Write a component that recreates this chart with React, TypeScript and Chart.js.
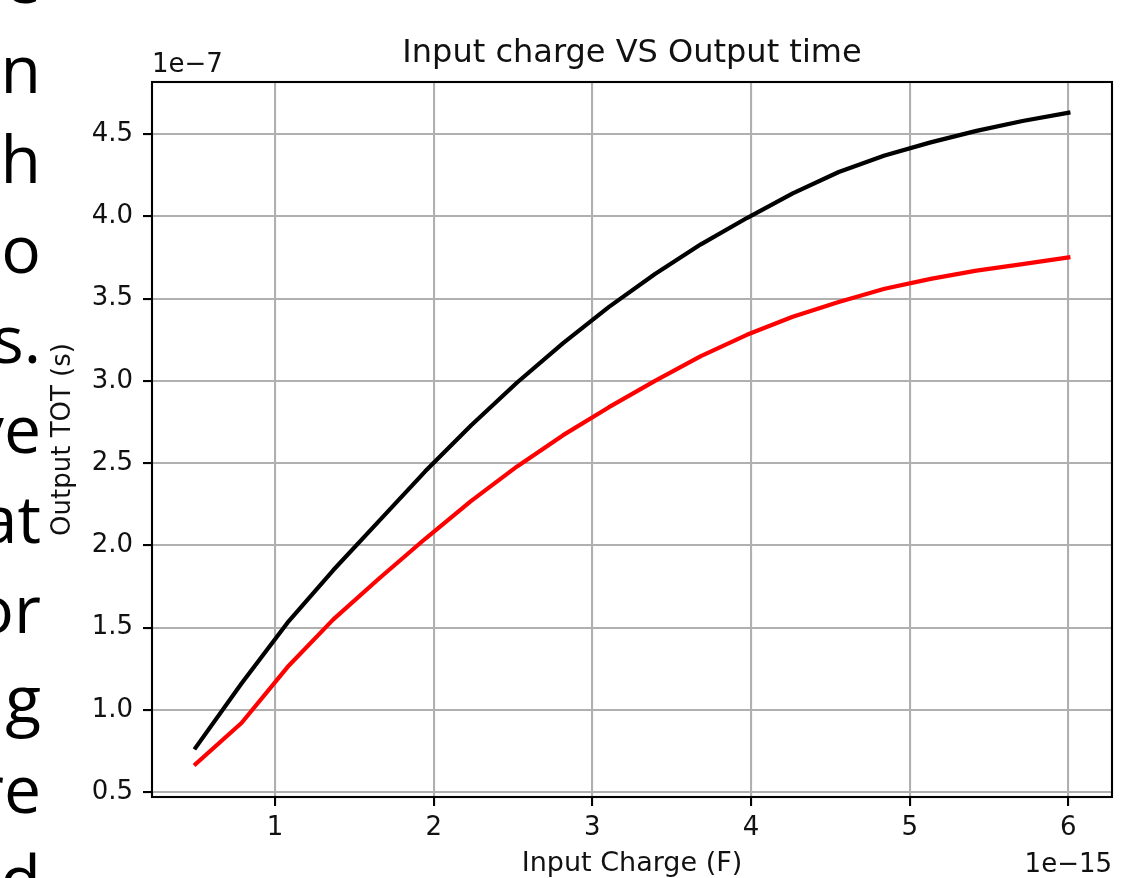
import React, { useEffect, useRef } from "react";
import { Chart, registerables } from "chart.js";

Chart.register(...registerables);

// Input charge (units of 1e-15 F)
const chargeE15 = [0.5, 0.789, 1.079, 1.368, 1.658, 1.947, 2.237, 2.526, 2.816, 3.105, 3.395, 3.684, 3.974, 4.263, 4.553, 4.842, 5.132, 5.421, 5.711, 6.0];
// Output TOT (units of 1e-7 s)
const totBlack = [0.77, 1.16, 1.53, 1.85, 2.15, 2.45, 2.73, 2.99, 3.23, 3.45, 3.65, 3.83, 3.99, 4.14, 4.27, 4.37, 4.45, 4.52, 4.58, 4.63];
const totRed = [0.67, 0.92, 1.26, 1.55, 1.80, 2.04, 2.27, 2.48, 2.67, 2.84, 3.00, 3.15, 3.28, 3.39, 3.48, 3.56, 3.62, 3.67, 3.71, 3.75];

const titleText = "Input charge VS Output time";
const xLabel = "Input Charge (F)";
const yLabel = "Output TOT (s)";
const xOffsetText = "1e\u221215";
const yOffsetText = "1e\u22127";

// Partial slide text visible at the left edge
const sideLines = ["e", "n", "h", "o", "s.", "ve", "at", "or", "g", "re", "d"];

const FONT = "DejaVu Sans";
const TEXT = "#111111";

const decorPlugin = {
  id: "decor",
  afterDraw(chart: any) {
    const { ctx, chartArea: a } = chart;
    ctx.save();
    ctx.strokeStyle = "#000";
    ctx.lineWidth = 2.1;
    ctx.strokeRect(a.left, a.top, a.right - a.left, a.bottom - a.top);
    ctx.fillStyle = TEXT;
    ctx.font = `26px "${FONT}"`;
    ctx.textBaseline = "alphabetic";
    ctx.textAlign = "left";
    ctx.fillText(yOffsetText, a.left, 72);
    ctx.textAlign = "right";
    ctx.fillText(xOffsetText, a.right, 872);
    ctx.restore();
  },
};

export default function App() {
  const ref = useRef<HTMLCanvasElement | null>(null);

  useEffect(() => {
    if (!ref.current) return;
    const mk = (ys: number[]) => chargeE15.map((x, i) => ({ x, y: ys[i] }));
    const lineStyle = {
      borderWidth: 4.2,
      pointRadius: 0,
      tension: 0,
      fill: false,
      borderJoinStyle: "round",
      borderCapStyle: "square",
    };
    const chart = new Chart(ref.current, {
      type: "line",
      data: {
        datasets: [
          { label: "black", data: mk(totBlack), borderColor: "#000000", ...lineStyle },
          { label: "red", data: mk(totRed), borderColor: "#ff0000", ...lineStyle },
        ],
      },
      options: {
        animation: false,
        responsive: false,
        maintainAspectRatio: false,
        layout: { padding: { top: 0, left: 0, right: 20, bottom: 0 } },
        font: { family: FONT },
        plugins: {
          legend: { display: false },
          tooltip: { enabled: false },
          title: {
            display: true,
            fullSize: false,
            text: titleText,
            color: TEXT,
            font: { family: FONT, size: 32, weight: "normal", lineHeight: 1.2 },
            padding: { top: 34.8, bottom: 8.8 },
          },
        },
        scales: {
          x: {
            type: "linear",
            min: 0.225,
            max: 6.275,
            afterFit: (s: any) => {
              s.height = 81;
            },
            border: { display: false },
            grid: {
              color: "#b0b0b0",
              lineWidth: 2.1,
              tickColor: "#000",
              tickWidth: 2.1,
              tickLength: 9,
            },
            ticks: {
              stepSize: 1,
              includeBounds: false,
              maxRotation: 0,
              autoSkip: false,
              padding: 7,
              color: TEXT,
              font: { family: FONT, size: 26 },
              callback: (v: any) => String(v),
            },
            title: {
              display: true,
              text: xLabel,
              color: TEXT,
              font: { family: FONT, size: 27, lineHeight: 1 },
              padding: { top: 0, bottom: 1 },
            },
          },
          y: {
            type: "linear",
            min: 0.47,
            max: 4.817,
            afterFit: (s: any) => {
              s.width = 152;
            },
            border: { display: false },
            grid: {
              color: "#b0b0b0",
              lineWidth: 2.1,
              tickColor: "#000",
              tickWidth: 2.1,
              tickLength: 9,
            },
            ticks: {
              stepSize: 0.5,
              includeBounds: false,
              autoSkip: false,
              padding: 10,
              color: TEXT,
              font: { family: FONT, size: 26 },
              callback: (v: any) => Number(v).toFixed(1),
            },
            title: {
              display: true,
              text: yLabel,
              color: TEXT,
              font: { family: FONT, size: 26, lineHeight: 1.2 },
              padding: { top: 48, bottom: 0 },
            },
          },
        },
      },
      plugins: [decorPlugin],
    } as any);
    return () => chart.destroy();
  }, []);

  return (
    <div
      style={{
        position: "fixed",
        left: 0,
        top: 0,
        width: 1132,
        height: 878,
        overflow: "hidden",
        background: "#ffffff",
      }}
    >
      <div
        style={{
          position: "absolute",
          left: -300,
          top: -67.6,
          width: 341,
          textAlign: "right",
          fontFamily: "'Open Sans', sans-serif",
          fontSize: 66,
          lineHeight: "90px",
          color: "#000",
          whiteSpace: "pre",
        }}
      >
        {sideLines.map((t, i) => (
          <div key={i}>{t}</div>
        ))}
      </div>
      <canvas
        ref={ref}
        width={1132}
        height={878}
        style={{ position: "absolute", left: 0, top: 0, width: 1132, height: 878 }}
      />
    </div>
  );
}
